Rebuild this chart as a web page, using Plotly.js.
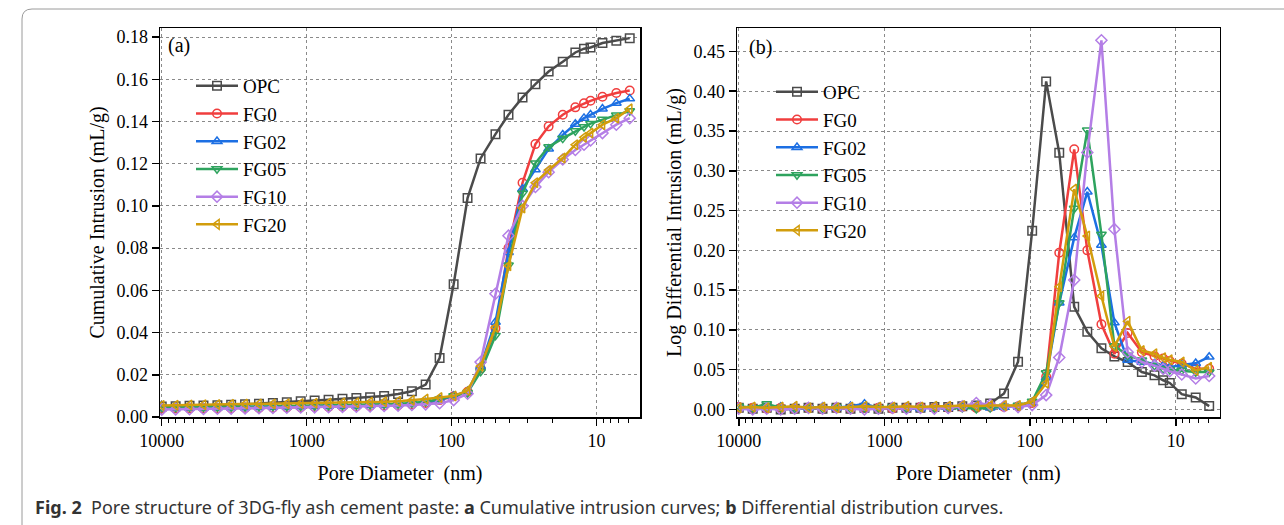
<!DOCTYPE html>
<html>
<head>
<meta charset="utf-8">
<script src="https://cdn.plot.ly/plotly-3.0.1.min.js"></script>
<style>html,body{margin:0;padding:0;background:#fff;}#chart{width:1284px;height:525px;}</style>
</head>
<body>
<div id="chart"></div>
<script>
// Pore diameters (nm) shared by all series
var diameters = [10000, 8017, 6427, 5152, 4130, 3319, 2661, 2133, 1710, 1371, 1099, 881, 706, 566, 454, 365, 292, 234, 188, 151, 121, 96.8, 77.6, 63.1, 49.8, 40.5, 32.4, 26.4, 21.4, 17.1, 14.0, 12.2, 11.0, 9.1, 7.3, 5.9];

var seriesNames = ["OPC", "FG0", "FG02", "FG05", "FG10", "FG20"];

// (a) Cumulative intrusion (mL/g)
var cumOPC  = [0.0050,0.0051,0.0053,0.0054,0.0056,0.0058,0.0060,0.0063,0.0066,0.0070,0.0075,0.0078,0.0082,0.0086,0.0090,0.0094,0.0099,0.0109,0.0122,0.0154,0.0279,0.0629,0.1037,0.1225,0.1340,0.1432,0.1514,0.1577,0.1637,0.1683,0.1727,0.1745,0.1751,0.1772,0.1783,0.1795];
var cumFG0  = [0.0040,0.0040,0.0041,0.0041,0.0042,0.0042,0.0043,0.0043,0.0044,0.0045,0.0046,0.0047,0.0048,0.0049,0.0050,0.0052,0.0054,0.0056,0.0060,0.0066,0.0080,0.0098,0.0120,0.0230,0.0420,0.0800,0.1110,0.1293,0.1377,0.1432,0.1467,0.1486,0.1498,0.1517,0.1535,0.1547];
var cumFG02 = [0.0042,0.0043,0.0043,0.0044,0.0044,0.0045,0.0045,0.0046,0.0047,0.0048,0.0049,0.0050,0.0051,0.0052,0.0053,0.0055,0.0057,0.0059,0.0063,0.0069,0.0082,0.0100,0.0122,0.0240,0.0450,0.0780,0.1080,0.1172,0.1270,0.1337,0.1388,0.1416,0.1432,0.1460,0.1487,0.1508];
var cumFG05 = [0.0045,0.0045,0.0046,0.0046,0.0047,0.0047,0.0048,0.0049,0.0050,0.0050,0.0051,0.0052,0.0053,0.0054,0.0056,0.0058,0.0060,0.0062,0.0066,0.0072,0.0085,0.0100,0.0115,0.0215,0.0386,0.0719,0.1060,0.1203,0.1280,0.1320,0.1355,0.1375,0.1390,0.1410,0.1430,0.1450];
var cumFG10 = [0.0035,0.0036,0.0037,0.0038,0.0039,0.0040,0.0041,0.0042,0.0043,0.0044,0.0045,0.0046,0.0047,0.0048,0.0049,0.0050,0.0052,0.0054,0.0057,0.0060,0.0065,0.0080,0.0110,0.0260,0.0584,0.0859,0.1000,0.1090,0.1160,0.1220,0.1265,0.1290,0.1310,0.1345,0.1385,0.1416];
var cumFG20 = [0.0055,0.0056,0.0057,0.0058,0.0059,0.0060,0.0061,0.0062,0.0062,0.0063,0.0064,0.0065,0.0066,0.0067,0.0068,0.0070,0.0072,0.0075,0.0079,0.0085,0.0092,0.0100,0.0125,0.0240,0.0425,0.0716,0.0990,0.1110,0.1170,0.1227,0.1290,0.1325,0.1345,0.1385,0.1416,0.1460];

// (b) Log differential intrusion (mL/g)
var ldOPC  = [0.002,0.001,0.002,0.000,0.001,0.002,0.001,0.002,0.001,0.002,0.001,0.002,0.002,0.002,0.003,0.003,0.004,0.005,0.0075,0.020,0.060,0.2246,0.4124,0.3226,0.129,0.0977,0.077,0.0667,0.0596,0.047,0.0429,0.0367,0.0333,0.0192,0.015,0.0042];
var ldFG0  = [0.003,0.002,0.001,0.002,0.001,0.002,0.001,0.002,0.001,0.002,0.002,0.001,0.002,0.003,0.002,0.002,0.003,0.002,0.003,0.003,0.004,0.008,0.041,0.197,0.327,0.200,0.107,0.070,0.096,0.072,0.067,0.064,0.061,0.0575,0.051,0.051];
var ldFG02 = [0.002,0.001,0.002,0.003,0.001,0.002,0.003,0.002,0.004,0.007,0.002,0.003,0.002,0.001,0.003,0.002,0.003,0.004,0.002,0.003,0.004,0.009,0.040,0.134,0.216,0.2736,0.2066,0.109,0.062,0.0596,0.0575,0.055,0.053,0.056,0.058,0.066];
var ldFG05 = [0.004,0.002,0.007,0.002,0.001,0.002,0.001,0.003,0.001,0.002,0.002,0.003,0.001,0.002,0.002,0.001,0.002,0.001,0.002,0.004,0.005,0.010,0.046,0.134,0.2527,0.351,0.220,0.080,0.068,0.062,0.055,0.051,0.050,0.049,0.047,0.047];
var ldFG10 = [0.001,0.000,0.001,0.000,0.001,0.002,0.001,0.002,0.001,0.000,0.001,0.002,0.001,0.002,0.001,0.002,0.004,0.008,0.006,0.004,0.003,0.0055,0.018,0.0654,0.1626,0.323,0.464,0.2266,0.072,0.0596,0.055,0.051,0.048,0.044,0.039,0.042];
var ldFG20 = [0.002,0.003,0.002,0.003,0.004,0.002,0.003,0.002,0.003,0.004,0.003,0.003,0.004,0.003,0.004,0.004,0.005,0.004,0.005,0.005,0.005,0.010,0.033,0.1542,0.277,0.218,0.1425,0.079,0.111,0.074,0.070,0.065,0.0625,0.0596,0.049,0.053];

var xTickVals = [10000, 1000, 100, 10];
var xTickText = ["10000", "1000", "100", "10"];
var xMinorVals = [9000,8000,7000,6000,5000,4000,3000,2000,900,800,700,600,500,400,300,200,90,80,70,60,50,40,30,20,9,8,7,6];
var yTickValsA = [0,0.02,0.04,0.06,0.08,0.10,0.12,0.14,0.16,0.18];
var yTickValsB = [0,0.05,0.10,0.15,0.20,0.25,0.30,0.35,0.40,0.45];

var colors = ["#4b4b4b", "#f03e3e", "#1c6fe3", "#2ea35e", "#b47ee6", "#d29d0c"];
var symbols = ["square-open", "circle-open", "triangle-up-open", "triangle-down-open", "diamond-open", "triangle-left-open"];

var cumData = [cumOPC, cumFG0, cumFG02, cumFG05, cumFG10, cumFG20];
var ldData = [ldOPC, ldFG0, ldFG02, ldFG05, ldFG10, ldFG20];

var traces = [];
seriesNames.forEach(function (n, i) {
  traces.push({
    x: diameters, y: cumData[i], name: n, type: "scatter", mode: "lines+markers",
    xaxis: "x", yaxis: "y", legend: "legend",
    line: {color: colors[i], width: 2.5},
    marker: {symbol: symbols[i], size: 8.5, color: colors[i], line: {color: colors[i], width: 1.5}}
  });
});
seriesNames.forEach(function (n, i) {
  traces.push({
    x: diameters, y: ldData[i], name: n, type: "scatter", mode: "lines+markers",
    xaxis: "x2", yaxis: "y2", legend: "legend2",
    line: {color: colors[i], width: 2.5},
    marker: {symbol: symbols[i], size: 8.5, color: colors[i], line: {color: colors[i], width: 1.5}}
  });
});

var serif = "Liberation Serif, Times New Roman, serif";
var W = 1284, TOP = 28, BOT = 417;
function px(x) { return x / W; }
function py(y) { return (BOT - y) / (BOT - TOP); }

function xAxis(domain, anchor) {
  return {
    domain: domain, anchor: anchor, type: "log", range: [4.012, 0.70],
    tickmode: "array", tickvals: xTickVals, ticktext: xTickText,
    ticks: "outside", ticklen: 7, tickwidth: 1.5, tickcolor: "#000",
    minor: {tickmode: "array", tickvals: xMinorVals, ticks: "outside", ticklen: 4, tickwidth: 1, tickcolor: "#000", showgrid: false},
    showline: true, linecolor: "#000", linewidth: 1.5, mirror: true,
    showgrid: true, gridcolor: "#8a8a8a", gridwidth: 1, griddash: "3px,3px",
    zeroline: false, automargin: false,
    tickfont: {family: serif, size: 18, color: "#000"},
    title: {text: "Pore Diameter\u00a0 (nm)", font: {family: serif, size: 20, color: "#000"}, standoff: 16}
  };
}
function yAxis(range, tv, domainAnchor, title) {
  return {
    domain: [0, 1], anchor: domainAnchor, range: range,
    tickmode: "array", tickvals: tv, tickformat: ".2f",
    ticks: "outside", ticklen: 7, tickwidth: 1.5, tickcolor: "#000",
    showline: true, linecolor: "#000", linewidth: 1.5, mirror: true,
    showgrid: true, gridcolor: "#8a8a8a", gridwidth: 1, griddash: "3px,3px",
    zeroline: false, automargin: false,
    tickfont: {family: serif, size: 18, color: "#000"},
    title: {text: title, font: {family: serif, size: 20, color: "#000"}, standoff: 6}
  };
}

var legendFont = {family: serif, size: 19, color: "#000"};
var layout = {
  width: 1284, height: 525,
  margin: {l: 0, r: 0, t: TOP, b: 525 - BOT},
  paper_bgcolor: "#fff", plot_bgcolor: "#fff",
  showlegend: true,
  xaxis: xAxis([px(160), px(640)], "y"),
  yaxis: yAxis([0, 0.1843], yTickValsA, "x", "Cumulative Intrusion (mL/g)"),
  xaxis2: xAxis([px(737), px(1219.5)], "y2"),
  yaxis2: yAxis([-0.0095, 0.4795], yTickValsB, "x2", "Log Differential Intrusion (mL/g)"),
  legend: {x: px(191), y: py(67), xanchor: "left", yanchor: "top", bgcolor: "rgba(0,0,0,0)", borderwidth: 0,
           font: legendFont, itemwidth: 42, tracegroupgap: 0},
  legend2: {x: px(771), y: py(73), xanchor: "left", yanchor: "top", bgcolor: "rgba(0,0,0,0)", borderwidth: 0,
            font: legendFont, itemwidth: 42, tracegroupgap: 0},
  annotations: [
    {xref: "paper", yref: "paper", x: px(166), y: py(45), xanchor: "left", yanchor: "middle", showarrow: false,
     text: "(a)", font: {family: serif, size: 20, color: "#000"}},
    {xref: "paper", yref: "paper", x: px(747), y: py(47), xanchor: "left", yanchor: "middle", showarrow: false,
     text: "(b)", font: {family: serif, size: 20, color: "#000"}},
    {xref: "paper", yref: "paper", x: px(33), y: py(507), xanchor: "left", yanchor: "middle", showarrow: false,
     text: "<b>Fig. 2</b>\u00a0\u00a0Pore structure of 3DG-fly ash cement paste: <b>a</b> Cumulative intrusion curves; <b>b</b> Differential distribution curves.",
     font: {family: "Noto Sans, sans-serif", size: 18, color: "#333"}}
  ],
  shapes: [
    {type: "path", xref: "paper", yref: "paper", layer: "below",
     path: "M " + px(22) + "," + py(530) + " L " + px(22) + "," + py(19) +
           " Q " + px(22) + "," + py(9) + " " + px(32) + "," + py(9) +
           " L " + px(1290) + "," + py(9),
     line: {color: "#9a9a9a", width: 1}}
  ]
};

Plotly.newPlot("chart", traces, layout, {displayModeBar: false, staticPlot: true});
</script>
</body>
</html>
